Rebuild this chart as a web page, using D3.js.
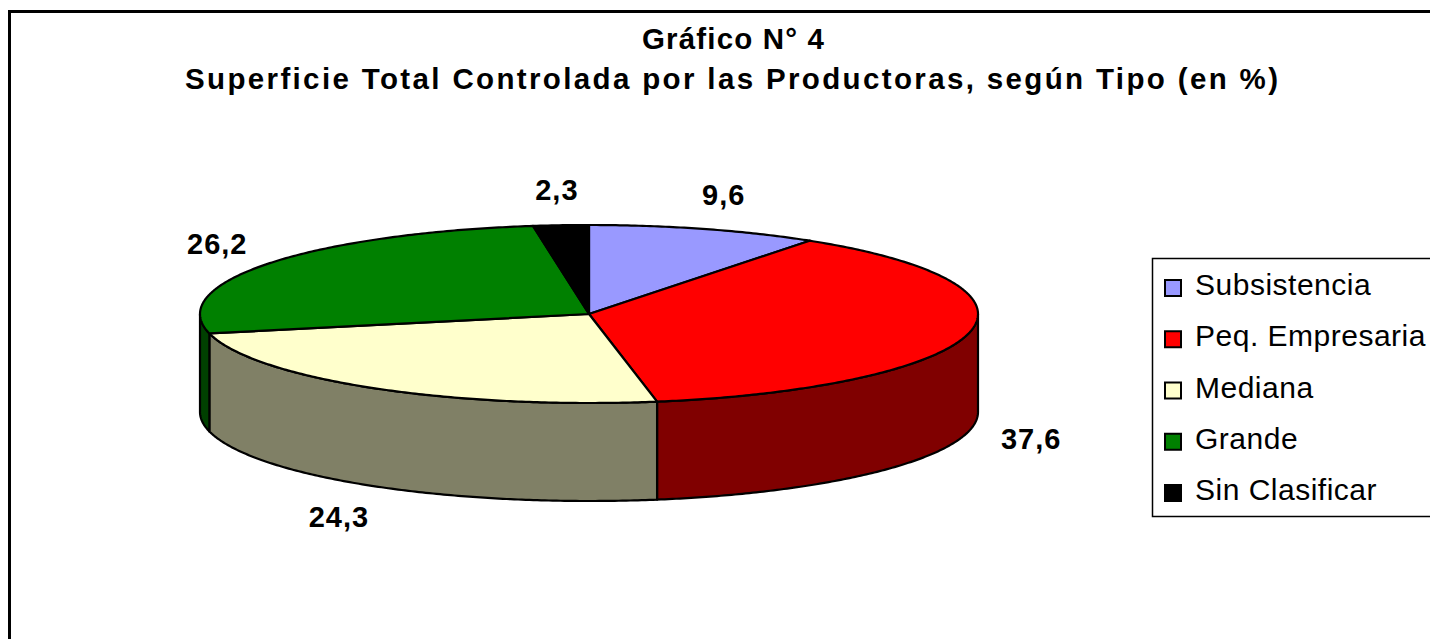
<!DOCTYPE html>
<html>
<head>
<meta charset="utf-8">
<script src="https://cdn.jsdelivr.net/npm/d3@7"></script>
<style>
  html, body { margin: 0; padding: 0; background: #fff; }
  svg { display: block; }
</style>
</head>
<body>
<svg id="chart" width="1430" height="639"></svg>
<script>
// ---- data ----
const categories = ["Subsistencia", "Peq. Empresaria", "Mediana", "Grande", "Sin Clasificar"];
const values = [9.6, 37.6, 24.3, 26.2, 2.3];
const valueLabels = ["9,6", "37,6", "24,3", "26,2", "2,3"];
const topColors = ["#9999FF", "#FF0000", "#FFFFCC", "#008000", "#000000"];
const sideColors = ["#4C4C80", "#800000", "#808066", "#004000", "#000000"];
const titleLines = ["Gráfico N° 4", "Superficie Total Controlada por las Productoras, según Tipo (en %)"];

// ---- layout ----
const W = 1430, H = 639;
const svg = d3.select("#chart");
const cx = 589, cy = 314, rx = 389, ry = 89, depth = 98;
const labelRx = 452, labelRy = 125;

svg.append("rect").attr("width", W).attr("height", H).attr("fill", "#fff");
// outer frame
svg.append("rect")
  .attr("x", 9.5).attr("y", 11.5).attr("width", 1500).attr("height", 700)
  .attr("fill", "none").attr("stroke", "#000").attr("stroke-width", 3);

// title
const titleFont = "'Liberation Sans', Arial, sans-serif";
svg.append("text")
  .attr("x", 733).attr("y", 48.5).attr("text-anchor", "middle")
  .attr("font-family", titleFont).attr("font-weight", "bold").attr("font-size", 29.5)
  .attr("textLength", 182).attr("lengthAdjust", "spacing")
  .text(titleLines[0]);
svg.append("text")
  .attr("x", 731.5).attr("y", 88.5).attr("text-anchor", "middle")
  .attr("font-family", titleFont).attr("font-weight", "bold").attr("font-size", 29.5)
  .attr("textLength", 1093).attr("lengthAdjust", "spacing")
  .text(titleLines[1]);

// scales
const color = d3.scaleOrdinal().domain(categories).range(topColors);
const sideColor = d3.scaleOrdinal().domain(categories).range(sideColors);
const pie = d3.pie().sort(null).value(d => d.value).startAngle(0).endAngle(2 * Math.PI);
const data = categories.map((c, i) => ({ cat: c, value: values[i], label: valueLabels[i] }));
const arcs = pie(data);

const px = a => cx + rx * Math.sin(a);
const py = a => cy - ry * Math.cos(a);

function arcPoints(a0, a1, dy) {
  const n = Math.max(2, Math.ceil((a1 - a0) / 0.01));
  const pts = [];
  for (let k = 0; k <= n; k++) {
    const a = a0 + (a1 - a0) * k / n;
    pts.push([px(a), py(a) + dy]);
  }
  return pts;
}

const g = svg.append("g");

// side walls (front half only)
arcs.forEach(d => {
  const s = Math.max(d.startAngle, Math.PI / 2);
  const e = Math.min(d.endAngle, 3 * Math.PI / 2);
  if (s >= e) return;
  const top = arcPoints(s, e, 0);
  const bot = arcPoints(s, e, depth).reverse();
  const path = d3.path();
  top.forEach((p, i) => i ? path.lineTo(p[0], p[1]) : path.moveTo(p[0], p[1]));
  bot.forEach(p => path.lineTo(p[0], p[1]));
  path.closePath();
  g.append("path").attr("d", path.toString())
    .attr("fill", sideColor(d.data.cat))
    .attr("stroke", "#000").attr("stroke-width", 2.2).attr("stroke-linejoin", "round");
});

// top faces
arcs.forEach(d => {
  const pts = arcPoints(d.startAngle, d.endAngle, 0);
  const path = d3.path();
  path.moveTo(cx, cy);
  pts.forEach(p => path.lineTo(p[0], p[1]));
  path.closePath();
  g.append("path").attr("d", path.toString())
    .attr("fill", color(d.data.cat))
    .attr("stroke", "#000").attr("stroke-width", 2.2).attr("stroke-linejoin", "round");
});

// value labels
arcs.forEach(d => {
  const m = (d.startAngle + d.endAngle) / 2;
  const x = cx + labelRx * Math.sin(m);
  let y = cy - labelRy * Math.cos(m);
  if (Math.cos(m) < 0) y += depth;
  svg.append("text")
    .attr("x", x + 0.5).attr("y", y + 10.5).attr("text-anchor", "middle")
    .attr("font-family", titleFont).attr("font-weight", "bold").attr("font-size", 29)
    .attr("letter-spacing", 1)
    .text(d.data.label);
});

// legend
const lg = svg.append("g");
lg.append("rect")
  .attr("x", 1152.5).attr("y", 258.5).attr("width", 300).attr("height", 258)
  .attr("fill", "#fff").attr("stroke", "#000").attr("stroke-width", 1.5);
const rowY = d3.scalePoint().domain(categories).range([295, 500]);
categories.forEach(c => {
  const by = rowY(c);
  lg.append("rect")
    .attr("x", 1165).attr("y", by - 15).attr("width", 16).attr("height", 16)
    .attr("fill", color(c)).attr("stroke", "#000").attr("stroke-width", 2);
  lg.append("text")
    .attr("x", 1195).attr("y", by)
    .attr("font-family", titleFont).attr("font-size", 30)
    .attr("letter-spacing", 0.5)
    .text(c);
});
</script>
</body>
</html>
